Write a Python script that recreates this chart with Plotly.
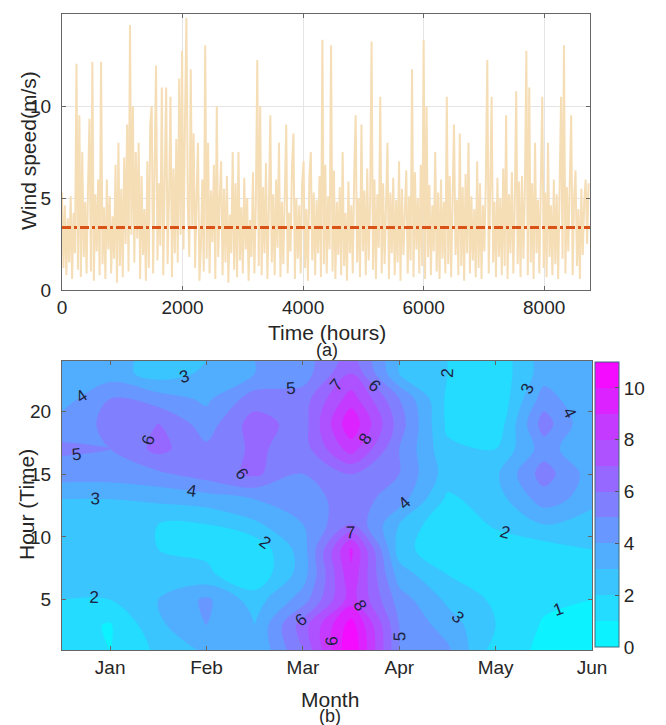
import plotly.graph_objects as go

# ---------------- data ----------------
# (a) daily samples of hourly wind speed (m/s), one value every 24 h
hours_step = 24
wind_speed = [
    5.3, 1.2, 4.6, 0.8, 3.9, 1.5, 5.1, 0.6, 4.2, 2.0, 12.3, 1.1, 9.5, 0.7, 7.5, 1.8, 4.8, 0.9, 5.6, 9.3,
    1.0, 12.4, 0.5, 5.2, 2.1, 6.0, 0.8, 12.4, 1.4, 4.5, 0.6, 6.0, 2.2, 5.1, 0.9, 4.0, 1.7, 6.8, 0.4, 8.0,
    1.3, 5.5, 0.7, 7.2, 2.5, 9.0, 1.0, 14.4, 3.0, 10.0, 1.5, 7.5, 2.8, 8.0, 0.6, 6.2, 1.9, 4.4, 0.5, 7.0,
    1.2, 9.0, 10.0, 0.9, 6.5, 12.2, 1.6, 5.8, 2.4, 11.0, 0.8, 6.3, 11.0, 1.4, 5.0, 10.5, 0.7, 6.6, 2.0, 8.2,
    1.5, 11.5, 3.0, 13.0, 2.2, 9.0, 14.8, 4.5, 1.8, 12.0, 3.5, 8.5, 1.2, 5.0, 8.0, 0.5, 2.3, 6.0, 1.0, 13.3,
    1.7, 8.0, 0.9, 5.4, 2.6, 6.8, 0.6, 10.0, 1.8, 4.9, 7.0, 0.8, 5.5, 1.5, 6.2, 0.4, 4.1, 2.0, 7.5, 1.1,
    5.8, 0.7, 7.5, 1.6, 4.5, 0.9, 6.1, 2.2, 5.0, 0.5, 3.8, 1.8, 6.4, 0.9, 4.7, 12.5, 1.3, 10.0, 0.8, 5.6,
    2.0, 6.9, 0.6, 4.3, 9.5, 1.5, 5.2, 0.8, 6.0, 2.3, 8.0, 0.7, 4.8, 1.4, 5.5, 9.0, 0.9, 4.2, 2.1, 6.7,
    8.5, 0.6, 5.0, 1.7, 4.6, 0.9, 5.8, 7.0, 1.2, 4.4, 0.5, 6.1, 7.5, 1.6, 5.3, 0.8, 4.9, 2.0, 6.2, 0.7,
    13.6, 1.4, 6.8, 0.9, 5.1, 2.2, 13.3, 1.0, 6.5, 0.6, 4.8, 1.9, 5.6, 0.8, 7.5, 1.3, 4.2, 0.5, 5.9, 2.0,
    4.6, 0.9, 6.3, 9.5, 1.5, 5.0, 0.7, 9.0, 2.1, 5.4, 0.8, 6.6, 1.6, 4.7, 13.5, 1.1, 6.0, 0.6, 5.2, 2.3,
    10.5, 0.9, 5.8, 1.4, 4.5, 8.0, 0.6, 5.3, 2.0, 6.1, 0.8, 4.9, 1.5, 7.0, 0.5, 5.5, 1.9, 4.4, 6.5, 0.9,
    5.1, 1.6, 12.0, 0.7, 6.4, 2.2, 5.0, 0.9, 6.8, 1.3, 13.6, 0.6, 10.0, 1.8, 5.7, 0.8, 4.6, 2.1, 7.5, 1.0,
    5.3, 0.6, 6.0, 1.7, 4.8, 0.9, 10.5, 1.4, 6.2, 0.7, 5.5, 9.0, 1.9, 4.9, 0.8, 8.5, 1.3, 5.6, 0.5, 6.3,
    2.0, 8.0, 0.9, 5.1, 1.6, 4.4, 0.7, 7.0, 1.2, 5.8, 0.6, 4.6, 2.1, 6.0, 12.5, 0.9, 5.4, 10.5, 1.5, 4.8,
    0.7, 6.1, 1.8, 5.0, 0.8, 6.6, 1.3, 9.5, 0.6, 5.2, 2.0, 6.4, 0.9, 4.7, 10.8, 1.4, 5.9, 0.7, 6.2, 1.7,
    5.5, 13.0, 0.8, 11.0, 1.5, 5.8, 0.6, 8.0, 2.0, 4.9, 0.9, 6.5, 10.5, 1.2, 5.3, 0.7, 8.0, 1.8, 4.6, 0.8,
    6.0, 1.4, 5.2, 0.6, 4.8, 10.5, 1.7, 13.3, 0.9, 5.6, 2.1, 6.3, 9.5, 0.8, 5.0, 6.5, 1.3, 4.4, 0.6, 5.5,
    1.9, 4.8, 6.0, 2.5, 5.8,
]
mean_speed = 3.4
time_ticks = [0, 2000, 4000, 6000, 8000]
speed_ticks = [0, 5, 10, 15]

# (b) mean wind speed by month position and hour of day
month_pos = [0.5, 1.0, 1.5, 2.0, 2.5, 3.0, 3.5, 4.0, 4.5, 5.0, 5.5, 6.0]
hour_pos = [1, 3, 5, 7, 9, 11, 13, 15, 17, 19, 21, 23, 24]
speed_grid = [
    [1.2, 1.0, 2.2, 3.2, 3.0, 6.0, 11.0, 5.0, 4.2, 1.5, 0.8, 0.6],
    [1.5, 0.9, 2.8, 4.0, 3.0, 6.5, 10.5, 5.0, 3.5, 2.0, 0.9, 0.8],
    [2.0, 2.0, 3.0, 4.2, 2.5, 4.5, 8.5, 4.5, 2.8, 1.8, 1.2, 1.0],
    [2.2, 2.2, 2.2, 2.2, 1.2, 3.5, 8.8, 3.5, 2.0, 1.4, 1.4, 1.5],
    [2.0, 2.4, 2.0, 1.8, 1.2, 3.5, 9.2, 2.5, 1.0, 1.2, 1.5, 2.0],
    [2.4, 2.6, 2.0, 2.0, 2.8, 4.0, 6.0, 3.0, 1.0, 2.2, 3.0, 2.2],
    [3.0, 3.0, 3.2, 3.5, 4.0, 4.5, 5.5, 4.5, 1.8, 2.5, 4.5, 3.5],
    [4.5, 4.5, 4.8, 5.5, 6.2, 5.0, 6.0, 5.0, 2.5, 2.8, 5.5, 3.5],
    [5.2, 5.0, 6.3, 5.2, 6.2, 5.5, 8.5, 5.0, 2.2, 2.0, 4.5, 3.0],
    [4.5, 5.2, 6.0, 4.5, 6.5, 5.5, 9.8, 5.5, 1.8, 1.2, 5.5, 3.0],
    [3.5, 5.0, 4.5, 3.8, 5.5, 5.5, 8.5, 5.0, 1.8, 1.0, 4.5, 3.0],
    [3.0, 3.5, 2.5, 3.2, 4.0, 4.5, 7.0, 3.0, 2.0, 1.2, 3.5, 3.0],
    [3.0, 3.5, 2.5, 3.0, 4.0, 4.5, 6.5, 3.0, 2.0, 1.2, 3.5, 3.0],
]
month_ticks = [1, 2, 3, 4, 5, 6]
month_labels = ["Jan", "Feb", "Mar", "Apr", "May", "Jun"]
hour_ticks = [5, 10, 15, 20]
cbar_ticks = [0, 2, 4, 6, 8, 10]

# ---------------- figure ----------------
# the page body has an 8px default margin, so the figure is drawn 8px in from the top-left
PAGE_OFF = 8
W, H = 666 - PAGE_OFF, 725 - PAGE_OFF
FONT = "Liberation Sans, Arial, sans-serif"
TXT = "#262626"


def fx(px):
    return (px - PAGE_OFF) / W


def fy(py):
    return 1 - (py - PAGE_OFF) / H


time_x = [i * hours_step for i in range(len(wind_speed))]

fig = go.Figure()
fig.add_trace(go.Scatter(
    x=time_x, y=wind_speed, mode="lines",
    line=dict(color="rgb(245,221,182)", width=2.0),
    xaxis="x", yaxis="y", showlegend=False, hoverinfo="skip"))
fig.add_trace(go.Scatter(
    x=[0, 8760], y=[mean_speed, mean_speed], mode="lines",
    line=dict(color="#D95319", width=3, dash="dashdot"),
    xaxis="x", yaxis="y", showlegend=False))

cool = [[0, "rgb(0,255,255)"], [1, "rgb(255,0,255)"]]
fig.add_trace(go.Contour(
    x=month_pos, y=hour_pos, z=speed_grid,
    xaxis="x2", yaxis="y2",
    colorscale=cool, zmin=0, zmax=11,
    contours=dict(start=0, end=11, size=1, coloring="fill", showlabels=True,
                  labelfont=dict(size=17, color="#1c2340", family=FONT)),
    line=dict(width=0, smoothing=1.0),
    colorbar=dict(x=fx(595), xanchor="left", xpad=0, ypad=0,
                  y=fy(504.5), yanchor="middle",
                  len=(647 - 362) / H, lenmode="fraction", thickness=24, thicknessmode="pixels",
                  outlinewidth=1, outlinecolor="#3a6f80", tickvals=cbar_ticks,
                  ticks="inside", ticklen=4, tickcolor="#555",
                  tickfont=dict(size=19, family=FONT, color=TXT)),
    showscale=True))

axis_common = dict(showline=True, linecolor="#666", linewidth=1, mirror="ticks",
                   ticks="inside", ticklen=4, tickcolor="#666",
                   tickfont=dict(size=19, family=FONT, color=TXT), zeroline=False)

fig.update_layout(
    width=W, height=H, margin=dict(l=0, r=0, t=0, b=0, autoexpand=False),
    paper_bgcolor="white", plot_bgcolor="white",
    xaxis=dict(domain=[fx(62), fx(590)], range=[0, 8760], tickvals=time_ticks,
               showgrid=True, gridcolor="#e4e4e4", anchor="y", **axis_common),
    yaxis=dict(domain=[fy(290), fy(14)], range=[0, 15], tickvals=speed_ticks,
               showgrid=True, gridcolor="#e4e4e4", anchor="x", ticklabelstandoff=6,
               **axis_common),
    xaxis2=dict(domain=[fx(62), fx(592)], range=[0.5, 6], tickvals=month_ticks,
                ticktext=month_labels, showgrid=False, anchor="y2", **axis_common),
    yaxis2=dict(domain=[fy(650), fy(361)], range=[1, 24], tickvals=hour_ticks,
                showgrid=False, anchor="x2", ticklabelstandoff=6, **axis_common),
    annotations=[
        dict(text="Wind speed(m/s)", x=fx(28), y=fy(151), xref="paper", yref="paper",
             xanchor="center", yanchor="middle",
             textangle=-90, showarrow=False, font=dict(size=21, family=FONT, color=TXT)),
        dict(text="Time (hours)", x=fx(327), y=fy(332), xref="paper", yref="paper",
             xanchor="center", yanchor="middle",
             showarrow=False, font=dict(size=21, family=FONT, color=TXT)),
        dict(text="(a)", x=fx(327), y=fy(350), xref="paper", yref="paper",
             xanchor="center", yanchor="middle",
             showarrow=False, font=dict(size=18, family=FONT, color=TXT)),
        dict(text="Hour (Time)", x=fx(26), y=fy(505), xref="paper", yref="paper",
             xanchor="center", yanchor="middle",
             textangle=-90, showarrow=False, font=dict(size=21, family=FONT, color=TXT)),
        dict(text="Month", x=fx(330), y=fy(699), xref="paper", yref="paper",
             xanchor="center", yanchor="middle",
             showarrow=False, font=dict(size=21, family=FONT, color=TXT)),
        dict(text="(b)", x=fx(330), y=fy(716), xref="paper", yref="paper",
             xanchor="center", yanchor="middle",
             showarrow=False, font=dict(size=18, family=FONT, color=TXT)),
    ],
)

fig.write_html("out.html")
